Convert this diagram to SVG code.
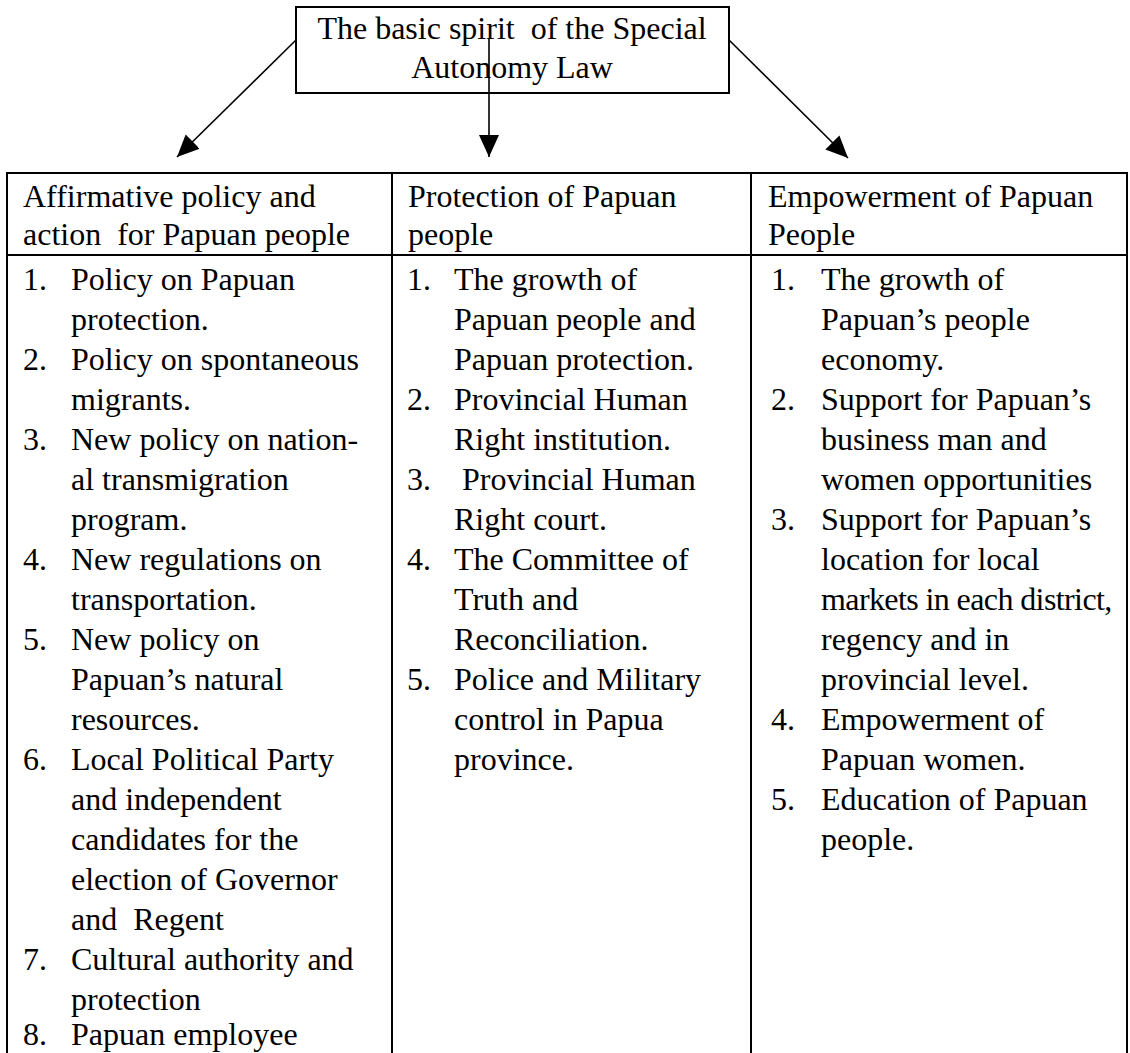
<svg xmlns="http://www.w3.org/2000/svg" width="1130" height="1053" viewBox="0 0 1130 1053">
<style>
text{font-family:"Liberation Serif","Times New Roman",serif;font-size:32px;fill:#000;white-space:pre}
.ln{stroke:#000;stroke-width:2;fill:none}
.ar{stroke:#000;stroke-width:1.6;fill:none}
.c{text-anchor:middle}
</style>
<defs>
<marker id="ah" markerUnits="userSpaceOnUse" markerWidth="24" markerHeight="22" refX="22" refY="10" orient="auto" viewBox="0 0 24 22">
<path d="M0,0 L22,10 L0,20 z" fill="#000"/>
</marker>
</defs>
<rect width="1130" height="1053" fill="#fff"/>
<g id="top-node">
<rect x="296" y="7" width="433" height="86" class="ln" stroke-width="2.5"/>
<text x="512" y="39" class="c" xml:space="preserve">The basic spirit  of the Special</text>
<text x="512" y="78" class="c">Autonomy Law</text>
</g>
<g id="connectors">
<line x1="296" y1="40" x2="177" y2="157" class="ar" marker-end="url(#ah)"/>
<line x1="489" y1="38" x2="489" y2="157" class="ar" marker-end="url(#ah)"/>
<line x1="729" y1="40" x2="848" y2="158" class="ar" marker-end="url(#ah)"/>
</g>
<g id="table">
<line x1="7" y1="173" x2="1127" y2="173" class="ln"/>
<line x1="7" y1="255" x2="1127" y2="255" class="ln"/>
<line x1="7" y1="172" x2="7" y2="1053" class="ln"/>
<line x1="392" y1="172" x2="392" y2="1053" class="ln"/>
<line x1="751" y1="172" x2="751" y2="1053" class="ln"/>
<line x1="1127" y1="172" x2="1127" y2="1053" class="ln"/>
</g>
<g id="col-affirmative">
<text x="23" y="207">Affirmative policy and</text>
<text x="23" y="245" xml:space="preserve">action  for Papuan people</text>
<text x="23" y="290">1.</text><text x="71" y="290">Policy on Papuan</text>
<text x="71" y="330">protection.</text>
<text x="23" y="370">2.</text><text x="71" y="370">Policy on spontaneous</text>
<text x="71" y="410">migrants.</text>
<text x="23" y="450">3.</text><text x="71" y="450">New policy on nation-</text>
<text x="71" y="490">al transmigration</text>
<text x="71" y="530">program.</text>
<text x="23" y="570">4.</text><text x="71" y="570">New regulations on</text>
<text x="71" y="610">transportation.</text>
<text x="23" y="650">5.</text><text x="71" y="650">New policy on</text>
<text x="71" y="690">Papuan’s natural</text>
<text x="71" y="730">resources.</text>
<text x="23" y="770">6.</text><text x="71" y="770">Local Political Party</text>
<text x="71" y="810">and independent</text>
<text x="71" y="850">candidates for the</text>
<text x="71" y="890">election of Governor</text>
<text x="71" y="930" xml:space="preserve">and  Regent</text>
<text x="23" y="970">7.</text><text x="71" y="970">Cultural authority and</text>
<text x="71" y="1010">protection</text>
<text x="23" y="1045">8.</text><text x="71" y="1045">Papuan employee</text>
</g>
<g id="col-protection">
<text x="408" y="207">Protection of Papuan</text>
<text x="408" y="245">people</text>
<text x="407" y="290">1.</text><text x="454" y="290">The growth of</text>
<text x="454" y="330">Papuan people and</text>
<text x="454" y="370">Papuan protection.</text>
<text x="407" y="410">2.</text><text x="454" y="410">Provincial Human</text>
<text x="454" y="450">Right institution.</text>
<text x="407" y="490">3.</text><text x="462" y="490">Provincial Human</text>
<text x="454" y="530">Right court.</text>
<text x="407" y="570">4.</text><text x="454" y="570">The Committee of</text>
<text x="454" y="610">Truth and</text>
<text x="454" y="650">Reconciliation.</text>
<text x="407" y="690">5.</text><text x="454" y="690">Police and Military</text>
<text x="454" y="730">control in Papua</text>
<text x="454" y="770">province.</text>
</g>
<g id="col-empowerment">
<text x="768" y="207">Empowerment of Papuan</text>
<text x="768" y="245">People</text>
<text x="771" y="290">1.</text><text x="821" y="290">The growth of</text>
<text x="821" y="330">Papuan’s people</text>
<text x="821" y="370">economy.</text>
<text x="771" y="410">2.</text><text x="821" y="410">Support for Papuan’s</text>
<text x="821" y="450">business man and</text>
<text x="821" y="490">women opportunities</text>
<text x="771" y="530">3.</text><text x="821" y="530">Support for Papuan’s</text>
<text x="821" y="570">location for local</text>
<text x="821" y="610" letter-spacing="-0.6">markets in each district,</text>
<text x="821" y="650">regency and in</text>
<text x="821" y="690">provincial level.</text>
<text x="771" y="730">4.</text><text x="821" y="730">Empowerment of</text>
<text x="821" y="770">Papuan women.</text>
<text x="771" y="810">5.</text><text x="821" y="810">Education of Papuan</text>
<text x="821" y="850">people.</text>
</g>
</svg>
